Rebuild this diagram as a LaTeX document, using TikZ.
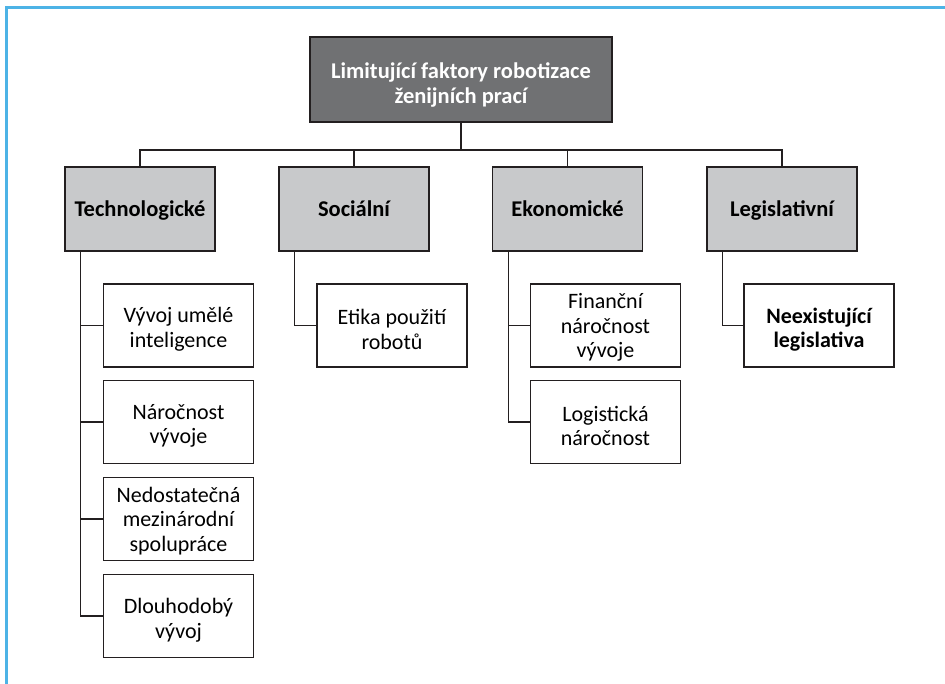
\documentclass[tikz,border=0pt]{standalone}
\usepackage{fontspec}
\setmainfont{Carlito}
\definecolor{framebl}{HTML}{4DB3E6}
\definecolor{rootgray}{HTML}{707173}
\definecolor{catgray}{HTML}{C8C9CB}
\definecolor{linedark}{HTML}{231F20}
\tikzset{
  basebox/.style={draw=linedark, line width=1.4pt, inner sep=0pt},
  rootbox/.style={basebox, fill=rootgray, minimum width=302pt, minimum height=85pt},
  catbox/.style={draw=linedark, line width=1.4pt, fill=catgray, minimum width=150pt, minimum height=84pt,
    text height=18pt, text depth=2pt, inner sep=2pt,
    font=\fontsize{22.5}{26}\selectfont\bfseries},
  leafbox/.style={basebox, fill=white, minimum width=150pt, minimum height=83pt},
  leaftext/.style={align=center, inner sep=0pt, font=\fontsize{22}{24.5}\selectfont},
  boldtext/.style={leaftext, font=\fontsize{22}{24.5}\selectfont\bfseries},
  roottext/.style={align=center, inner sep=0pt, text=white, font=\fontsize{22.5}{25}\selectfont\bfseries},
  conn/.style={draw=linedark, line width=1.1pt}
}
\begin{document}
\begin{tikzpicture}[x=1pt,y=-1pt]
\useasboundingbox (0,0) rectangle (945,684);
\fill[white] (0,0) rectangle (945,684);
% frame
\draw[framebl, line width=2.2pt] (6.5,684) -- (6.5,7.5) -- (945,7.5);
% root
\node[rootbox] (root) at (461,79.5) {};
\node[roottext] (roott) at ([yshift=-5pt]root.center) {Limitující faktory robotizace\\ženijních prací};
% categories
\node[catbox] (tech) at (140,209) {Technologické};
\node[catbox] (soc) at (354,209) {Sociální};
\node[catbox] (ekon) at (567.5,209) {Ekonomické};
\node[catbox] (leg) at (782,209) {Legislativní};
% leaves
\node[leafbox] (t1) at (178.5,325.5) {};
\node[leaftext] (t1t) at ([yshift=-4pt]t1.center) {Vývoj umělé\\inteligence};
\node[leafbox] (t2) at (178.5,422) {};
\node[leaftext] (t2t) at ([yshift=-4pt]t2.center) {Náročnost\\vývoje};
\node[leafbox] (t3) at (178.5,519) {};
\node[leaftext] (t3t) at ([yshift=-2pt]t3.center) {Nedostatečná\\mezinárodní\\spolupráce};
\node[leafbox] (t4) at (178.5,616) {};
\node[leaftext] (t4t) at ([yshift=-4pt]t4.center) {Dlouhodobý\\vývoj};
\node[leafbox] (s1) at (392,325.5) {};
\node[leaftext] (s1t) at ([yshift=-4pt]s1.center) {Etika použití\\robotů};
\node[leafbox] (e1) at (605.5,325.5) {};
\node[leaftext] (e1t) at ([yshift=-2pt]e1.center) {Finanční\\náročnost\\vývoje};
\node[leafbox] (e2) at (605.5,422) {};
\node[leaftext] (e2t) at ([yshift=-4pt]e2.center) {Logistická\\náročnost};
\node[leafbox] (l1) at (819,325.5) {};
\node[boldtext] (l1t) at ([yshift=-4pt]l1.center) {Neexistující\\legislativa};
% connectors root -> categories
\coordinate (bus) at (461,150);
\draw[conn] (root.south) -- (bus);
\draw[conn] (tech.north) |- (bus) -| (leg.north);
\draw[conn] (soc.north) -- (soc.north |- bus);
\draw[conn] (ekon.north) -- (ekon.north |- bus);
% technologicke
\coordinate (tsp) at ([xshift=16pt]tech.south west);
\draw[conn] (tsp) |- (t4.west);
\draw[conn] (tsp) |- (t1.west);
\draw[conn] (tsp) |- (t2.west);
\draw[conn] (tsp) |- (t3.west);
% socialni
\coordinate (ssp) at ([xshift=16pt]soc.south west);
\draw[conn] (ssp) |- (s1.west);
% ekonomicke
\coordinate (esp) at ([xshift=17pt]ekon.south west);
\draw[conn] (esp) |- (e2.west);
\draw[conn] (esp) |- (e1.west);
% legislativni
\coordinate (lsp) at ([xshift=16pt]leg.south west);
\draw[conn] (lsp) |- (l1.west);
\end{tikzpicture}
\end{document}
